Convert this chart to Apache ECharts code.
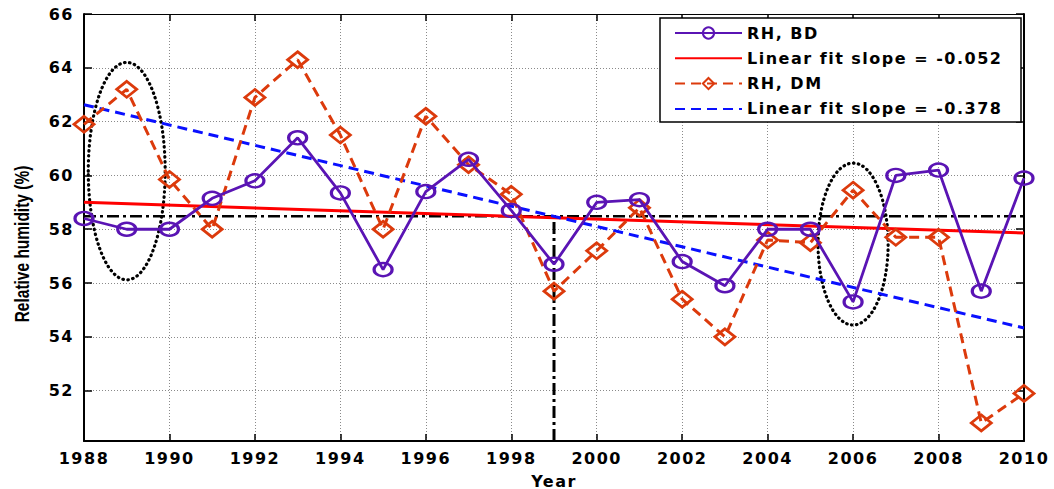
<!DOCTYPE html>
<html>
<head>
<meta charset="utf-8">
<script src="https://cdn.jsdelivr.net/npm/echarts@6/dist/echarts.min.js"></script>
<style>
html,body{margin:0;padding:0;background:#fff;}
#c{width:1054px;height:489px;}
#c svg text{letter-spacing:1.5px;}
#c svg text[style*="Liberation"], #c svg text[font-family*="Liberation"]{letter-spacing:0px !important;}
</style>
</head>
<body>
<div id="c"></div>
<script>
// ---- data ----
const years = [1988,1989,1990,1991,1992,1993,1994,1995,1996,1997,1998,1999,2000,2001,2002,2003,2004,2005,2006,2007,2008,2009,2010];
const rhBD = [58.4,58.0,58.0,59.15,59.8,61.4,59.35,56.5,59.4,60.6,58.7,56.7,59.0,59.1,56.8,55.9,58.0,58.0,55.3,60.0,60.2,55.7,59.9];
const rhDM = [61.9,63.2,59.85,58.0,62.9,64.3,61.5,58.0,62.2,60.4,59.3,55.7,57.2,58.8,55.4,54.0,57.6,57.5,59.45,57.7,57.7,50.8,51.9];
const fitBDYears = [1988, 2010];
const fitBDValues = [59.0, 57.86];
const fitDMYears = [1988, 2010];
const fitDMValues = [62.63, 54.33];
const refLevel = 58.48;
const refYear = 1999;
const yMin = 50.13, yMax = 66;
const yTicks = [52,54,56,58,60,62,64,66];
// ellipse highlight: [centerYear, centerValue, radiusYears, radiusValue]
const ellipses = [[1989, 60.16, 0.9, 4.04], [2006, 57.45, 0.82, 3.01]];
const names = ['RH, BD', 'Linear fit slope = -0.052', 'RH, DM', 'Linear fit slope = -0.378'];

const zip = (a, b) => a.map((v, i) => [v, b[i]]);
const FONT = 'DejaVu Sans';
const purple = '#5a14b4', orange = '#dc3a0c';

const chart = echarts.init(document.getElementById('c'), null, {renderer: 'svg'});
const axisText = {fontFamily: FONT, fontWeight: 'bold', fontSize: 16, color: '#000'};

chart.setOption({
  animation: false,
  backgroundColor: '#fff',
  grid: {left: 84, right: 30, top: 14, bottom: 48, containLabel: false, outerBoundsMode: 'none'},
  xAxis: [{
    type: 'value', min: 1988, max: 2010, interval: 2,
    name: 'Year', nameLocation: 'middle', nameGap: 32,
    nameTextStyle: {fontFamily: FONT, fontWeight: 'bold', fontSize: 16, color: '#000'},
    axisLine: {lineStyle: {color: '#000', width: 2}},
    axisTick: {inside: true, length: 7, lineStyle: {color: '#000', width: 1.5}},
    axisLabel: Object.assign({margin: 9, formatter: v => String(v)}, axisText),
    splitLine: {show: true, lineStyle: {color: '#8a8a8a', type: [1, 2], width: 1}}
  }, {
    type: 'value', min: 1988, max: 2010, interval: 2, position: 'top',
    axisLine: {show: true, lineStyle: {color: '#000', width: 1}},
    axisTick: {show: true, inside: true, length: 7, lineStyle: {color: '#000', width: 1.5}},
    axisLabel: {show: false}, splitLine: {show: false}
  }],
  yAxis: [{
    type: 'value', min: yMin, max: yMax, interval: 2,
    axisLine: {show: true, lineStyle: {color: '#000', width: 2}},
    axisTick: {show: true, inside: true, length: 8, customValues: yTicks, lineStyle: {color: '#000', width: 1.5}},
    axisLabel: Object.assign({margin: 10, customValues: yTicks, formatter: v => (Math.abs(v - Math.round(v)) < 1e-6 ? String(v) : '')}, axisText),
    splitLine: {show: true, lineStyle: {color: '#8a8a8a', type: [1, 2], width: 1}}
  }, {
    type: 'value', min: yMin, max: yMax, interval: 2, position: 'right',
    axisLine: {show: true, lineStyle: {color: '#000', width: 2}},
    axisTick: {show: true, inside: true, length: 8, customValues: yTicks, lineStyle: {color: '#000', width: 1.5}},
    axisLabel: {show: false}, splitLine: {show: false}
  }],
  legend: {
    orient: 'vertical', left: 660, top: 18,
    data: [
      {name: names[0]},
      {name: names[1], itemStyle: {opacity: 0}},
      {name: names[2]},
      {name: names[3], itemStyle: {opacity: 0}}
    ],
    padding: [7, 8, 5, 14],
    itemWidth: 67, itemHeight: 14, itemGap: 9.3,
    backgroundColor: '#fff', borderColor: '#000', borderWidth: 1.5,
    textStyle: {fontFamily: FONT, fontWeight: 'bold', fontSize: 16, color: '#000', lineHeight: 16, width: 266}
  },
  graphic: [{
    type: 'text', x: 22, y: 244, rotation: Math.PI / 2, scaleY: 1.3,
    style: {text: 'Relative humidity (%)', fontFamily: 'Liberation Sans', fontWeight: 'bold', fontSize: 15.5, fill: '#000', align: 'center', verticalAlign: 'middle'}
  }],
  series: [
    {
      type: 'custom', name: 'ellipse', silent: true, z: 1,
      data: ellipses, encode: {x: 0, y: 1},
      renderItem: (params, api) => {
        const c = api.coord([api.value(0), api.value(1)]);
        const e = api.coord([api.value(0) + api.value(2), api.value(1) + api.value(3)]);
        return {
          type: 'ellipse',
          shape: {cx: c[0], cy: c[1], rx: Math.abs(e[0] - c[0]), ry: Math.abs(e[1] - c[1])},
          style: {fill: 'none', stroke: '#000', lineWidth: 3.2, lineDash: [0.5, 4.5], lineCap: 'round'}
        };
      }
    },
    {
      type: 'line', name: 'ref-h', silent: true, symbol: 'none', z: 2,
      data: [[years[0], refLevel], [years[years.length - 1], refLevel]],
      lineStyle: {color: '#000', width: 2.5, type: [12, 4, 3, 4]}
    },
    {
      type: 'line', name: 'ref-v', silent: true, symbol: 'none', z: 2,
      data: [[refYear, yMin], [refYear, refLevel]],
      lineStyle: {color: '#000', width: 3, type: [12, 4, 3, 4]}
    },
    {
      type: 'line', name: names[1], symbol: 'none', z: 3,
      data: zip(fitBDYears, fitBDValues),
      lineStyle: {color: '#ff0000', width: 3}, itemStyle: {color: '#ff0000'}
    },
    {
      type: 'line', name: names[3], symbol: 'none', z: 3,
      data: zip(fitDMYears, fitDMValues),
      lineStyle: {color: '#0a10ff', width: 3, type: [10, 6]}, itemStyle: {color: '#0a10ff'}
    },
    {
      type: 'line', name: names[2], z: 4,
      data: zip(years, rhDM),
      symbol: 'diamond', symbolSize: [20, 16],
      lineStyle: {color: orange, width: 3, type: [10, 6]},
      itemStyle: {color: 'rgba(255,255,255,0)', borderColor: orange, borderWidth: 2.8}
    },
    {
      type: 'line', name: names[0], z: 5,
      data: zip(years, rhBD),
      symbol: 'circle', symbolSize: [18, 13],
      lineStyle: {color: purple, width: 2.8},
      itemStyle: {color: 'rgba(255,255,255,0)', borderColor: purple, borderWidth: 2.8}
    }
  ]
});

function fixSpacing() {
  document.querySelectorAll('#c svg text').forEach(t => {
    if (t.textContent.indexOf('Relative') === 0) t.style.setProperty('letter-spacing', '0px', 'important');
  });
}
chart.on('finished', fixSpacing);
chart.on('rendered', fixSpacing);
fixSpacing();
setTimeout(fixSpacing, 50);
</script>
</body>
</html>
